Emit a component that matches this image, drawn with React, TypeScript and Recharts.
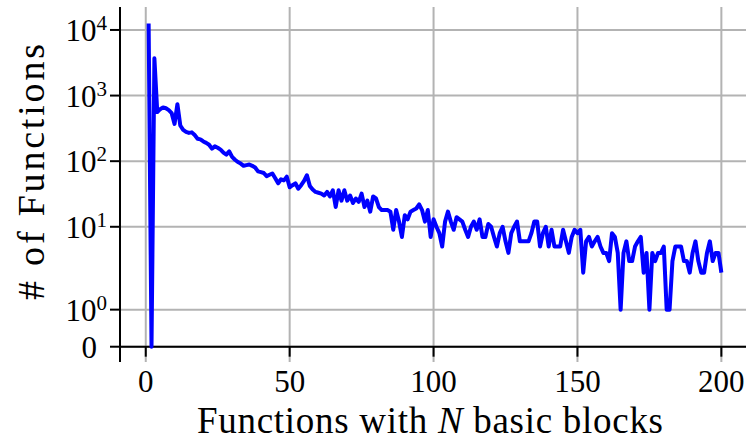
import { LineChart, Line, XAxis, YAxis, CartesianGrid, ReferenceLine } from 'recharts';

// Number of functions having N basic blocks, N = 1..200
const counts1to50 = [
  12500, 0, 3700, 560, 620, 660, 640, 600, 540, 370,
  740, 350, 300, 280, 270, 275, 250, 220, 215, 200,
  190, 178, 155, 168, 160, 150, 135, 126, 141, 116,
  105, 97, 92, 85, 87, 89, 85, 80, 70, 68,
  66, 59, 62, 65, 55, 46, 53, 51, 58, 40,
];
const counts51to100 = [
  43, 46, 38, 43, 50, 61, 42, 37, 34, 33,
  32, 30, 34, 29, 36, 20, 36, 25, 36, 25,
  30, 23, 27, 24, 32, 20, 25, 17, 29, 27,
  20, 18, 18, 18, 17, 9, 18, 12, 7, 15,
  13, 17, 18, 19, 22, 18, 12, 18, 7, 13,
];
const counts101to150 = [
  10, 8, 5, 12, 17, 12, 9, 14, 13, 12,
  9, 7, 10, 12, 9, 13, 7, 7, 11, 10,
  7, 5, 8, 10, 6, 4, 8, 10, 12, 6,
  6, 6, 6, 8, 12, 12, 5, 8, 10, 5,
  9, 5, 5, 5, 9, 6, 4, 7, 9, 8,
];
const counts151to200 = [
  9, 2, 6, 7, 5, 6, 7, 5, 4, 4,
  3, 8, 7, 4, 1, 4, 6, 3, 3, 5,
  6, 7, 2, 4, 1, 4, 3, 4, 4, 5,
  1, 1, 3, 5, 5, 5, 3, 3, 2, 4,
  6, 3, 2, 2, 4, 6, 3, 4, 4, 2,
];

const xTicks = [0, 50, 100, 150, 200];
const yTickValues = [0, 1, 10, 100, 1000, 10000];
const yTickExponents = ['', '0', '1', '2', '3', '4'];

// symlog-style transform: linear below 2, log10 above
const symlog = (v: number) => (v < 2 ? 0.565 * v : 0.828 + Math.log10(v));

const counts = [...counts1to50, ...counts51to100, ...counts101to150, ...counts151to200];
const data = counts.map((c, i) => ({ n: i + 1, y: symlog(c) }));
const yTicks = yTickValues.map(symlog);

const FONT = '"Liberation Serif", "Times New Roman", serif';

const YTick = (props: any) => {
  const { x, y, index } = props;
  const exp = yTickExponents[index];
  if (exp === '') {
    return (
      <text x={x - 10} y={y + 11} textAnchor="end" fontSize={31} fontFamily={FONT} fill="#000">
        0
      </text>
    );
  }
  return (
    <text x={x} y={y + 11} textAnchor="end" fontSize={31} fontFamily={FONT} fill="#000">
      <tspan>10</tspan>
      <tspan fontSize={21} dy={-11}>{exp}</tspan>
    </text>
  );
};

const XLabel = () => (
  <text x={430} y={433} textAnchor="middle" fontSize={37} fontFamily={FONT} fill="#000" textLength={466} lengthAdjust="spacing">
    Functions with <tspan fontStyle="italic">N</tspan> basic blocks
  </text>
);

const YLabel = () => (
  <text
    x={44}
    y={172}
    transform="rotate(-90, 44, 172)"
    textAnchor="middle"
    fontSize={38}
    fontFamily={FONT}
    fill="#000"
    textLength={256}
    lengthAdjust="spacing"
  >
    # of Functions
  </text>
);

export default function App() {
  return (
    <div style={{ position: 'absolute', left: 0, top: 0, width: 746, height: 442, overflow: 'hidden', background: '#fff' }}>
      <LineChart width={750} height={442} data={data} margin={{ top: 7, right: 0, bottom: 0, left: 0 }}>
        <CartesianGrid stroke="#b3b3b3" strokeWidth={2} horizontalValues={yTicks} verticalValues={xTicks} />
        <XAxis
          dataKey="n"
          type="number"
          domain={[-8.95, 209.95]}
          ticks={xTicks}
          allowDataOverflow
          height={80}
          axisLine={false}
          tickLine={false}
          tickSize={0}
          tickMargin={8}
          tick={{ fill: '#000', fontSize: 31, fontFamily: FONT }}
          label={XLabel}
        />
        <YAxis
          type="number"
          domain={[-0.233, 5.178]}
          ticks={yTicks}
          allowDataOverflow
          width={120}
          axisLine={{ stroke: '#000', strokeWidth: 2 }}
          tickLine={{ stroke: '#000', strokeWidth: 2 }}
          tickSize={10}
          tickMargin={3}
          tick={YTick}
          interval={0}
          label={YLabel}
        />
        <ReferenceLine y={0} stroke="#000" strokeWidth={2} />
        {xTicks.map((t) => (
          <ReferenceLine
            key={t}
            segment={[{ x: t, y: 0 }, { x: t, y: -0.152 }]}
            stroke="#000"
            strokeWidth={2}
            ifOverflow="visible"
          />
        ))}
        <Line
          type="linear"
          dataKey="y"
          stroke="#0000ff"
          strokeWidth={4}
          strokeLinejoin="round"
          dot={false}
          activeDot={false}
          isAnimationActive={false}
        />
      </LineChart>
    </div>
  );
}
